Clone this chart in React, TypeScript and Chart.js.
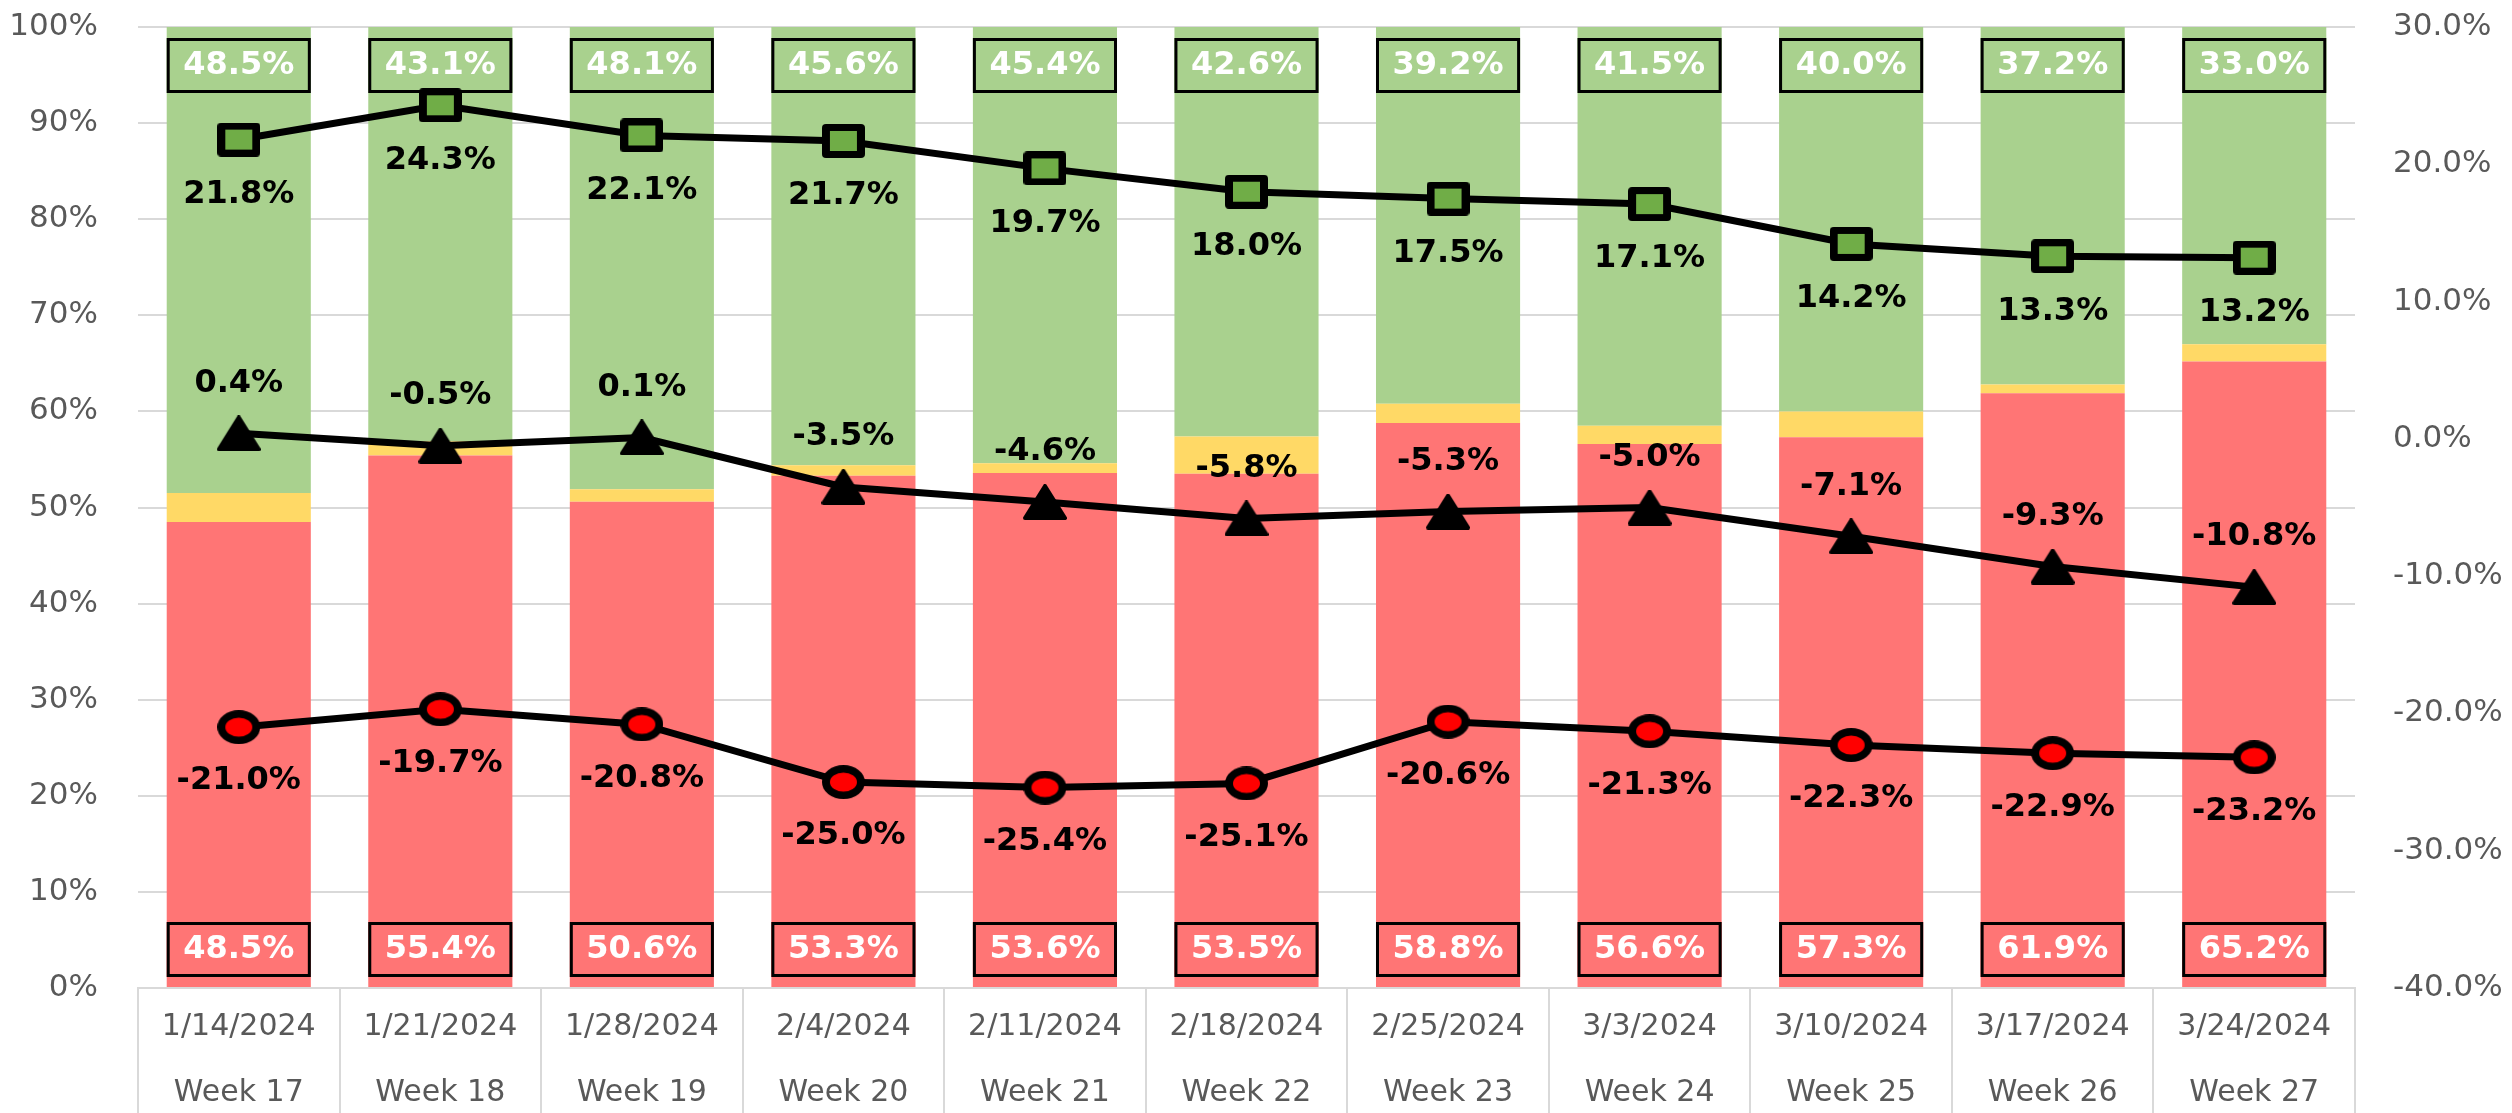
import React, { useEffect, useRef } from 'react';
import { Chart, registerables } from 'chart.js';
Chart.register(...registerables);

const dates = ['1/14/2024', '1/21/2024', '1/28/2024', '2/4/2024', '2/11/2024', '2/18/2024', '2/25/2024', '3/3/2024', '3/10/2024', '3/17/2024', '3/24/2024'];
const weeks = ['Week 17', 'Week 18', 'Week 19', 'Week 20', 'Week 21', 'Week 22', 'Week 23', 'Week 24', 'Week 25', 'Week 26', 'Week 27'];
const redShare = [48.5, 55.4, 50.6, 53.3, 53.6, 53.5, 58.8, 56.6, 57.3, 61.9, 65.2];
const yellowShare = [3.0, 1.5, 1.3, 1.1, 1.0, 3.9, 2.0, 1.9, 2.7, 0.9, 1.8];
const greenShare = [48.5, 43.1, 48.1, 45.6, 45.4, 42.6, 39.2, 41.5, 40.0, 37.2, 33.0];
const greenLine = [21.8, 24.3, 22.1, 21.7, 19.7, 18.0, 17.5, 17.1, 14.2, 13.3, 13.2];
const blackLine = [0.4, -0.5, 0.1, -3.5, -4.6, -5.8, -5.3, -5.0, -7.1, -9.3, -10.8];
const redLine = [-21.0, -19.7, -20.8, -25.0, -25.4, -25.1, -20.6, -21.3, -22.3, -22.9, -23.2];

const RED = '#FF7575';
const YELLOW = '#FFD966';
const GREEN = '#A9D18E';
const GRID = '#D9D9D9';
const TICK = '#595959';
const FONT = '"DejaVu Sans", Verdana, sans-serif';

function roundRect(g: CanvasRenderingContext2D, x: number, y: number, w: number, h: number, r: number) {
  g.beginPath();
  g.moveTo(x + r, y);
  g.lineTo(x + w - r, y);
  g.quadraticCurveTo(x + w, y, x + w, y + r);
  g.lineTo(x + w, y + h - r);
  g.quadraticCurveTo(x + w, y + h, x + w - r, y + h);
  g.lineTo(x + r, y + h);
  g.quadraticCurveTo(x, y + h, x, y + h - r);
  g.lineTo(x, y + r);
  g.quadraticCurveTo(x, y, x + r, y);
  g.closePath();
}

function makeSquare() {
  const c = document.createElement('canvas');
  c.width = 43; c.height = 34;
  const g = c.getContext('2d')!;
  g.fillStyle = '#000';
  roundRect(g, 0, 0, 43, 34, 4);
  g.fill();
  g.fillStyle = '#70AD47';
  g.fillRect(8, 7, 27, 20);
  return c;
}

function makeCircle() {
  const c = document.createElement('canvas');
  c.width = 43; c.height = 34;
  const g = c.getContext('2d')!;
  g.fillStyle = '#000';
  g.beginPath();
  g.ellipse(21.5, 17, 21.5, 17, 0, 0, Math.PI * 2);
  g.fill();
  g.fillStyle = '#FF0000';
  g.beginPath();
  g.ellipse(21.5, 17, 13.5, 9.5, 0, 0, Math.PI * 2);
  g.fill();
  return c;
}

function makeTriangle() {
  const c = document.createElement('canvas');
  c.width = 44; c.height = 36;
  const g = c.getContext('2d')!;
  g.fillStyle = '#000';
  g.strokeStyle = '#000';
  g.lineWidth = 4;
  g.lineJoin = 'round';
  g.beginPath();
  g.moveTo(22, 2);
  g.lineTo(42, 34);
  g.lineTo(2, 34);
  g.closePath();
  g.fill();
  g.stroke();
  return c;
}

const labelPlugin = {
  id: 'customLabels',
  afterDatasetDraw(chart: any, args: any) {
    if (args.index !== 0) return;
    const ctx = chart.ctx;
    const yScale = chart.scales.y;
    const top = yScale.getPixelForValue(100);
    const bottom = yScale.getPixelForValue(0);
    const drawBoxes = (dsIndex: number, values: number[], y0: number) => {
      const meta = chart.getDatasetMeta(dsIndex);
      meta.data.forEach((bar: any, i: number) => {
        const w = bar.width;
        const x0 = bar.x - w / 2;
        ctx.save();
        ctx.fillStyle = dsIndex === 0 ? RED : GREEN;
        ctx.fillRect(x0, y0, w, 55);
        ctx.strokeStyle = '#000';
        ctx.lineWidth = 3;
        ctx.strokeRect(x0 + 1.5, y0 + 1.5, w - 3, 52);
        ctx.fillStyle = '#fff';
        ctx.font = 'bold 32px ' + FONT;
        ctx.textAlign = 'center';
        ctx.textBaseline = 'middle';
        ctx.fillText(values[i].toFixed(1) + '%', bar.x, y0 + 28);
        ctx.restore();
      });
    };
    drawBoxes(2, greenShare, top + 11);
    drawBoxes(0, redShare, bottom - 66);
  },
  afterDatasetsDraw(chart: any) {
    const ctx = chart.ctx;
    const drawLabels = (dsIndex: number, values: number[], offset: number) => {
      const meta = chart.getDatasetMeta(dsIndex);
      meta.data.forEach((pt: any, i: number) => {
        ctx.save();
        ctx.fillStyle = '#000';
        ctx.font = 'bold 32px ' + FONT;
        ctx.textAlign = 'center';
        ctx.textBaseline = 'middle';
        ctx.fillText(values[i].toFixed(1) + '%', pt.x, pt.y + offset);
        ctx.restore();
      });
    };
    drawLabels(3, greenLine, 55);
    drawLabels(4, blackLine, -50);
    drawLabels(5, redLine, 54);
  },
};

export default function App() {
  const ref = useRef<HTMLCanvasElement>(null);
  useEffect(() => {
    document.body.style.margin = '0';
    const canvas = ref.current!;
    const square = makeSquare();
    const circle = makeCircle();
    const tri = makeTriangle();
    const chart = new Chart(canvas, {
      type: 'bar',
      data: {
        labels: dates,
        datasets: [
          { type: 'bar', label: 'Red', data: redShare, backgroundColor: RED, yAxisID: 'y', order: 1, barPercentage: 0.715, categoryPercentage: 1 },
          { type: 'bar', label: 'Yellow', data: yellowShare, backgroundColor: YELLOW, yAxisID: 'y', order: 1, barPercentage: 0.715, categoryPercentage: 1 },
          { type: 'bar', label: 'Green', data: greenShare, backgroundColor: GREEN, yAxisID: 'y', order: 1, barPercentage: 0.715, categoryPercentage: 1 },
          { type: 'line', label: 'Green line', data: greenLine, yAxisID: 'y1', order: 0, borderColor: '#000', borderWidth: 7, pointStyle: square as any, pointRadius: 20, tension: 0 },
          { type: 'line', label: 'Black line', data: blackLine, yAxisID: 'y1', order: 0, borderColor: '#000', borderWidth: 7, pointStyle: tri as any, pointRadius: 20, tension: 0 },
          { type: 'line', label: 'Red line', data: redLine, yAxisID: 'y1', order: 0, borderColor: '#000', borderWidth: 7, pointStyle: circle as any, pointRadius: 20, tension: 0 },
        ] as any,
      },
      options: {
        animation: false,
        responsive: false,
        devicePixelRatio: 1,
        layout: { padding: { top: 22, left: 0, right: 0, bottom: 0 } },
        plugins: { legend: { display: false }, tooltip: { enabled: false } },
        scales: {
          x: {
            stacked: true,
            offset: true,
            grid: { display: true, drawOnChartArea: false, drawTicks: true, tickLength: 125, color: GRID, lineWidth: 2, offset: true },
            border: { display: true, color: GRID, width: 2 },
            ticks: {
              padding: -119,
              color: TICK,
              font: { family: FONT, size: 30, lineHeight: 2.2 },
              maxRotation: 0,
              autoSkip: false,
              callback: (_v: any, i: number) => [dates[i], weeks[i]],
            },
            afterFit: (s: any) => { s.height = 125; s.paddingLeft = 0; s.paddingRight = 0; },
          },
          y: {
            stacked: true,
            position: 'left',
            min: 0,
            max: 100,
            grid: { color: GRID, lineWidth: 2, drawTicks: false },
            border: { display: false },
            ticks: { stepSize: 10, padding: 40, color: TICK, font: { family: FONT, size: 31 }, callback: (v: any) => v + '%' },
            afterFit: (s: any) => { s.width = 138; s.paddingTop = 0; s.paddingBottom = 0; },
          },
          y1: {
            stacked: false,
            position: 'right',
            min: -40,
            max: 30,
            grid: { display: false, drawTicks: false },
            border: { display: false },
            ticks: { stepSize: 10, padding: 38, color: TICK, font: { family: FONT, size: 31 }, callback: (v: any) => Number(v).toFixed(1) + '%' },
            afterFit: (s: any) => { s.width = 157; s.paddingTop = 0; s.paddingBottom = 0; },
          },
        },
      } as any,
      plugins: [labelPlugin],
    });
    return () => chart.destroy();
  }, []);
  return (
    <div style={{ width: 2512, height: 1113 }}>
      <canvas ref={ref} width={2512} height={1113} style={{ display: 'block' }} />
    </div>
  );
}
